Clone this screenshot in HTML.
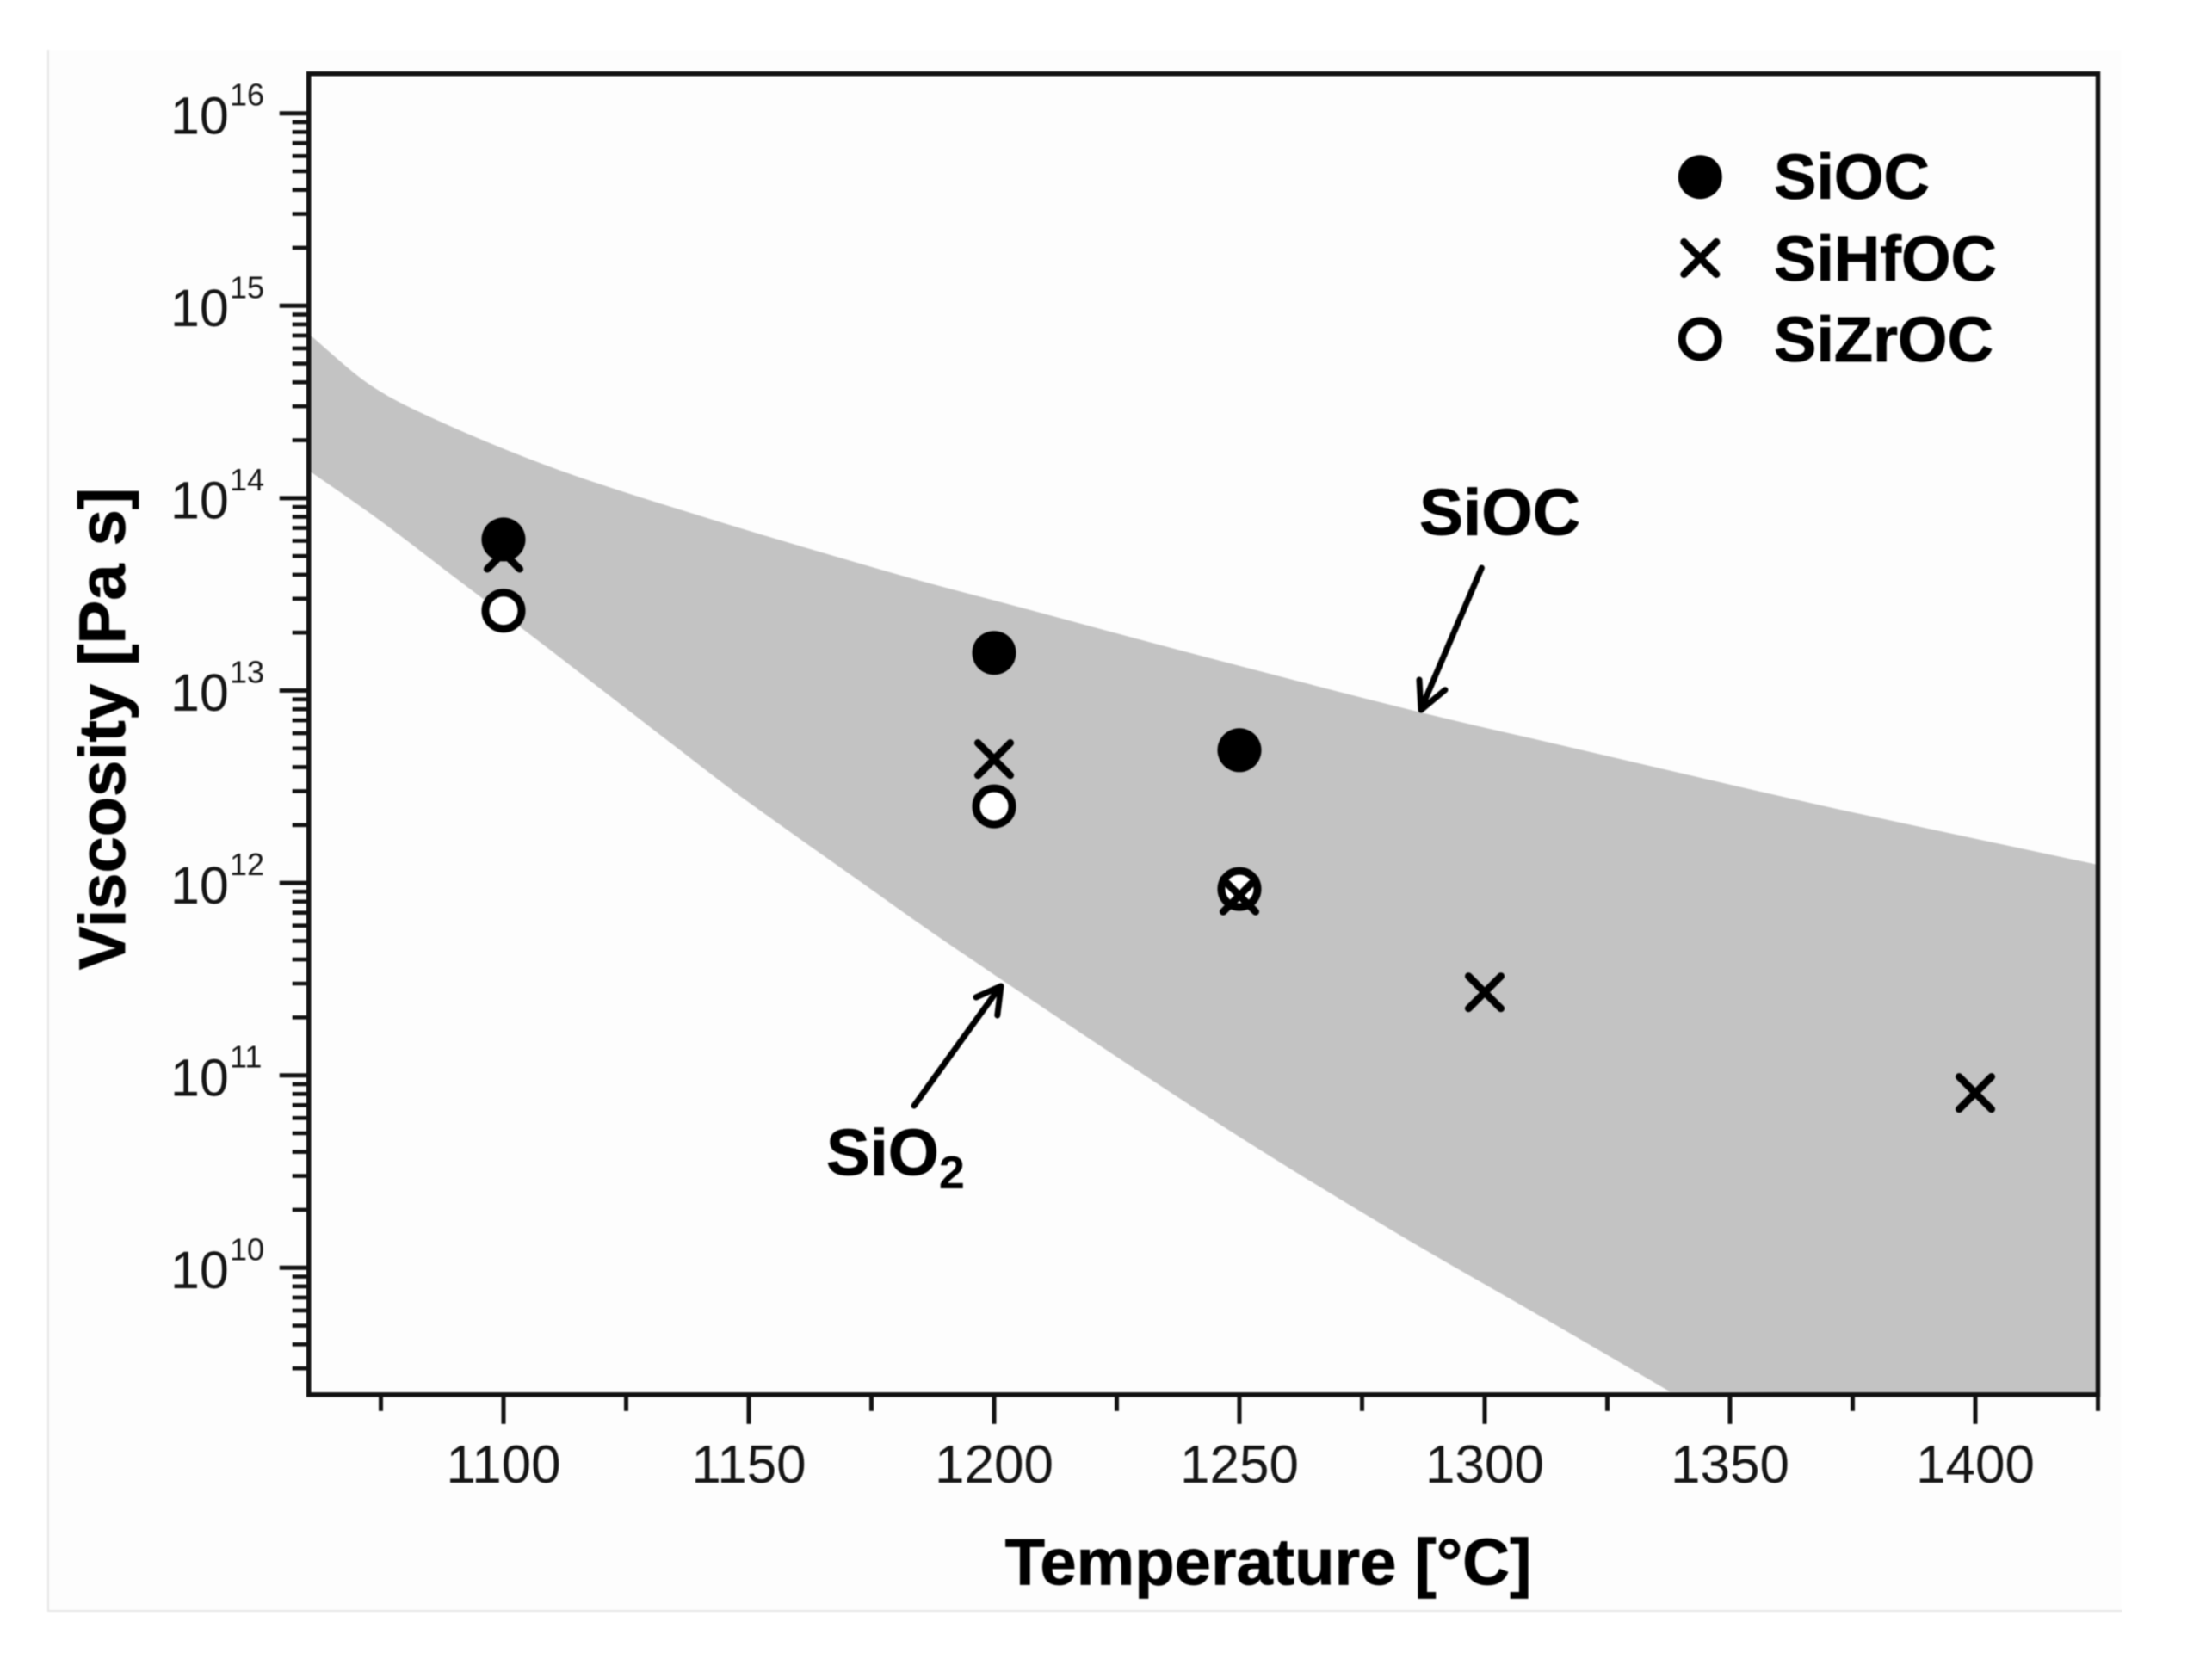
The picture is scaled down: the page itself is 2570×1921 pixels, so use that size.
<!DOCTYPE html>
<html lang="en">
<head>
<meta charset="utf-8">
<title>Viscosity vs Temperature</title>
<style>
  html, body { margin: 0; padding: 0; background: #ffffff; width: 2570px; height: 1921px; overflow: hidden; }
  svg { display: block; filter: blur(0.7px); font-family: "Liberation Sans", Arial, sans-serif; }
</style>
</head>
<body>
<svg id="chart" xmlns="http://www.w3.org/2000/svg" width="2570" height="1921" viewBox="0 0 2570 1921">
  <defs>
    <clipPath id="plot-clip"><rect x="358.7" y="85.7" width="2078.8" height="1535.1"></rect></clipPath>
  </defs>
  <rect x="56" y="58" width="2409.5" height="1814" fill="#fdfdfd"></rect>
  <path d="M56 58V1872H2465.5" fill="none" stroke="#e6e6e6" stroke-width="2"></path>
  <g id="band-layer" clip-path="url(#plot-clip)"></g>
  <g id="tick-layer"></g>
  <rect x="358.7" y="85.7" width="2078.8" height="1535.1" fill="none" stroke="#111" stroke-width="5.5"></rect>
  <g id="marker-layer"></g>

  <text transform="translate(145 847) rotate(-90)" text-anchor="middle" font-size="76" font-weight="700" fill="#000" stroke="#000" stroke-width="0.8">Viscosity [Pa s]</text>
  <text x="1473.5" y="1841.7" text-anchor="middle" font-size="76" font-weight="700" fill="#000" stroke="#000" stroke-width="0.8">Temperature [°C]</text>

  <g>
    <circle cx="1975.3" cy="205.7" r="25.5" fill="#000"></circle>
    <text x="2061" y="231" font-size="74" font-weight="700" fill="#000" stroke="#000" stroke-width="0.8">SiOC</text>
    <path d="M1956.5 281.2L1994.1 318.8M1956.5 318.8L1994.1 281.2" fill="none" stroke="#000" stroke-width="8.5" stroke-linecap="round"></path>
    <text x="2061" y="326" font-size="74" font-weight="700" fill="#000" stroke="#000" stroke-width="0.8">SiHfOC</text>
    <circle cx="1975.3" cy="394" r="21" fill="#fff" stroke="#000" stroke-width="9"></circle>
    <text x="2061" y="420" font-size="74" font-weight="700" fill="#000" stroke="#000" stroke-width="0.8">SiZrOC</text>
  </g>

  <g>
    <text x="1649" y="621.7" font-size="76.5" font-weight="700" fill="#000" stroke="#000" stroke-width="0.8">SiOC</text>
    <path d="M1721.4 660L1651 824M1649 790L1651 825L1679 801.7" fill="none" stroke="#000" stroke-width="7" stroke-linecap="round" stroke-linejoin="round"></path>
  </g>
  <g>
    <text x="960" y="1365.7" font-size="76" font-weight="700" fill="#000" stroke="#000" stroke-width="0.8">SiO<tspan font-size="54" dy="15.3" stroke-width="0">2</tspan></text>
    <path d="M1062 1285L1161 1148M1134 1159L1163 1146L1158.8 1180" fill="none" stroke="#000" stroke-width="7" stroke-linecap="round" stroke-linejoin="round"></path>
  </g>
</svg>

<script>
// Axis ticks and labels
const xMajorTicks = [1100, 1150, 1200, 1250, 1300, 1350, 1400];
const xMinorTicks = [1075, 1125, 1175, 1225, 1275, 1325, 1375, 1425];
const yDecades = [10, 11, 12, 13, 14, 15, 16];
const yMinorMultipliers = [2, 3, 4, 5, 6, 7, 8, 9];

// Axis limits (temperature in deg C, viscosity as log10 Pa s)
const xLimits = [1060.3, 1425.0];
const yLogLimits = [9.3403, 16.2057];

// Shaded band: upper edge (SiOC)
const upperTemps = [1060.3, 1072.2, 1083.9, 1107.4, 1133.6, 1177.5, 1206.7, 1244, 1287, 1313.2, 1367.9, 1425];
const upperLogViscosity = [14.854, 14.599, 14.435, 14.183, 13.959, 13.624, 13.423, 13.168, 12.886, 12.73, 12.407, 12.094];

// Shaded band: lower edge (SiO2)
const lowerTemps = [1060.3, 1075.1, 1089.8, 1104.4, 1136.5, 1148.2, 1171.6, 1191.5, 1244.9, 1281.9, 1313.2, 1337.7];
const lowerLogViscosity = [14.144, 13.879, 13.593, 13.311, 12.68, 12.452, 12.027, 11.67, 10.763, 10.182, 9.721, 9.357];

// Measured series
const siocTemps = [1100, 1200, 1250];
const siocViscosity = [6.1e13, 1.57e13, 4.9e12];
const sihfocTemps = [1100, 1200, 1250, 1300, 1400];
const sihfocViscosity = [5.2e13, 4.4e12, 8.6e11, 2.7e11, 8.1e10];
const sizrocTemps = [1100, 1200, 1250];
const sizrocViscosity = [2.6e13, 2.5e12, 9.3e11];

const NS = 'http://www.w3.org/2000/svg';
const plotLeft = 358.7, plotRight = 2437.5, plotTop = 85.7, plotBottom = 1620.8;

function xScale(t) {
  return plotLeft + (t - xLimits[0]) / (xLimits[1] - xLimits[0]) * (plotRight - plotLeft);
}
function yScaleLog(l) {
  return plotBottom - (l - yLogLimits[0]) / (yLogLimits[1] - yLogLimits[0]) * (plotBottom - plotTop);
}
function yScale(v) {
  return yScaleLog(Math.log10(v));
}
function make(tag, attrs, parent) {
  const el = document.createElementNS(NS, tag);
  Object.keys(attrs).forEach(function (k) { el.setAttribute(k, attrs[k]); });
  parent.appendChild(el);
  return el;
}
// Smooth curve through the edge points using slopes measured along x
function smoothSegments(pts) {
  const n = pts.length;
  function slope(i) {
    const a = pts[Math.max(i - 1, 0)], b = pts[Math.min(i + 1, n - 1)];
    return (b[1] - a[1]) / (b[0] - a[0]);
  }
  let d = '';
  for (let i = 0; i < n - 1; i++) {
    const p1 = pts[i], p2 = pts[i + 1], step = (p2[0] - p1[0]) / 3;
    d += 'C' + (p1[0] + step) + ' ' + (p1[1] + slope(i) * step) + ' ' +
         (p2[0] - step) + ' ' + (p2[1] - slope(i + 1) * step) + ' ' + p2[0] + ' ' + p2[1];
  }
  return d;
}

const bandLayer = document.getElementById('band-layer');
const tickLayer = document.getElementById('tick-layer');
const markerLayer = document.getElementById('marker-layer');

// Band shape
const upperPts = upperTemps.map(function (t, i) { return [xScale(t), yScaleLog(upperLogViscosity[i])]; });
const lowerPts = lowerTemps.map(function (t, i) { return [xScale(t), yScaleLog(lowerLogViscosity[i])]; }).reverse();
const bandPath = 'M' + upperPts[0][0] + ' ' + upperPts[0][1] + smoothSegments(upperPts) +
  'L' + xScale(xLimits[1]) + ' ' + yScaleLog(yLogLimits[0]) +
  'L' + lowerPts[0][0] + ' ' + lowerPts[0][1] + smoothSegments(lowerPts) + 'Z';
const band = make('path', { d: bandPath, fill: '#c3c3c3' }, bandLayer);



// X ticks
xMajorTicks.forEach(function (t) {
  const x = xScale(t);
  const line = make('line', { x1: x, x2: x, y1: plotBottom, y2: plotBottom + 34, stroke: '#111', 'stroke-width': 5 }, tickLayer);
  
  
  const label = make('text', { x: x, y: 1723, 'text-anchor': 'middle', 'font-size': 62, fill: '#151515' }, tickLayer);
  label.textContent = String(t);
  
  
});
xMinorTicks.forEach(function (t) {
  const x = xScale(t);
  const line = make('line', { x1: x, x2: x, y1: plotBottom, y2: plotBottom + 19, stroke: '#111', 'stroke-width': 5 }, tickLayer);
  
  
});

// Y ticks
yDecades.forEach(function (d) {
  const y = yScaleLog(d);
  const line = make('line', { x1: plotLeft - 34, x2: plotLeft, y1: y, y2: y, stroke: '#111', 'stroke-width': 5 }, tickLayer);
  
  
  const base = make('text', { x: 198, y: y + 23.7, 'font-size': 61, fill: '#151515' }, tickLayer);
  base.textContent = '10';
  
  
  const exponent = make('text', { x: 267, y: y - 9, 'font-size': 36, fill: '#151515' }, tickLayer);
  exponent.textContent = String(d);
  
  
});
[9].concat(yDecades.slice(0, -1)).forEach(function (d) {
  yMinorMultipliers.forEach(function (m) {
    const l = d + Math.log10(m);
    if (l < yLogLimits[0] || l > yLogLimits[1]) return;
    const y = yScaleLog(l);
    const line = make('line', { x1: plotLeft - 19, x2: plotLeft, y1: y, y2: y, stroke: '#111', 'stroke-width': 4.6 }, tickLayer);
    
    
  });
});

// Series: rings first, then crosses, then solid dots
sizrocTemps.forEach(function (t, i) {
  const ring = make('circle', { cx: xScale(t), cy: yScale(sizrocViscosity[i]), r: 21, fill: '#fff', stroke: '#000', 'stroke-width': 9 }, markerLayer);
  
  
});
sihfocTemps.forEach(function (t, i) {
  const cx = xScale(t), cy = yScale(sihfocViscosity[i]), h = 18.8;
  const d = 'M' + (cx - h) + ' ' + (cy - h) + 'L' + (cx + h) + ' ' + (cy + h) +
            'M' + (cx - h) + ' ' + (cy + h) + 'L' + (cx + h) + ' ' + (cy - h);
  const cross = make('path', { d: d, fill: 'none', stroke: '#000', 'stroke-width': 8.5, 'stroke-linecap': 'round' }, markerLayer);
  
  
});
siocTemps.forEach(function (t, i) {
  const dot = make('circle', { cx: xScale(t), cy: yScale(siocViscosity[i]), r: 25.5, fill: '#000' }, markerLayer);
  
  
});
</script>
</body>
</html>
